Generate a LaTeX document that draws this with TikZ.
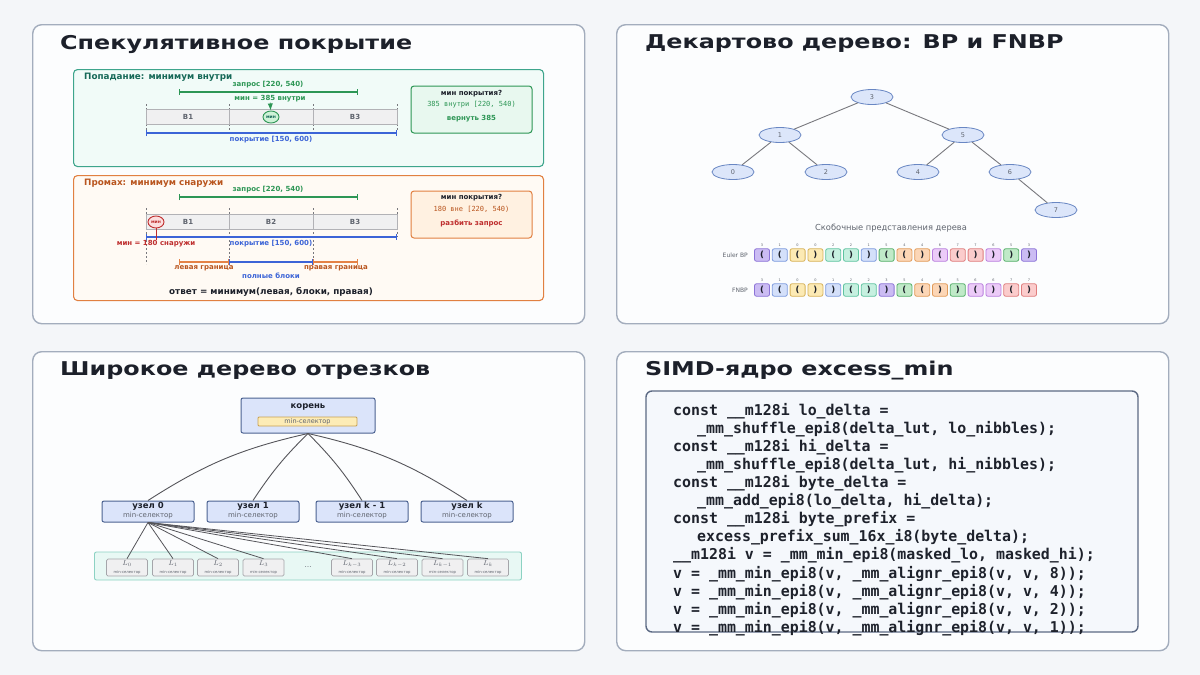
\documentclass[tikz,border=0pt]{standalone}
\usepackage{fontspec}
\setmainfont{DejaVu Sans}
\setmonofont{DejaVu Sans Mono}
\newfontfamily\titlefont[FakeStretch=1.255]{DejaVu Sans Bold}
\usepackage{xcolor}
\usepackage{tikz}
\usetikzlibrary{
  arrows.meta,
  calc,
  positioning,
  shapes.geometric
}
\definecolor{PageBg}{RGB}{244,246,249}
\definecolor{PanelBg}{RGB}{252,253,254}
\definecolor{PanelLine}{RGB}{163,173,189}
\definecolor{TitleInk}{RGB}{28,32,42}
\definecolor{SoftInk}{RGB}{95,100,110}
\definecolor{HitLine}{RGB}{62,165,140}
\definecolor{HitFill}{RGB}{241,251,248}
\definecolor{HitInk}{RGB}{22,105,88}
\definecolor{HitAns}{RGB}{232,248,239}
\definecolor{HitMin}{RGB}{205,242,215}
\definecolor{QryGreen}{RGB}{45,150,85}
\definecolor{CovBlue}{RGB}{60,100,215}
\definecolor{MissLine}{RGB}{225,128,65}
\definecolor{MissFill}{RGB}{255,250,244}
\definecolor{MissInk}{RGB}{185,85,30}
\definecolor{MissAns}{RGB}{255,241,225}
\definecolor{MinRed}{RGB}{190,45,45}
\definecolor{MinFill}{RGB}{252,222,222}
\definecolor{EdgeOrange}{RGB}{228,130,70}
\definecolor{BlkFill}{RGB}{240,240,241}
\definecolor{BlkLine}{RGB}{178,178,182}
\definecolor{GuideInk}{RGB}{120,120,125}
\definecolor{TNodeFill}{RGB}{220,230,250}
\definecolor{TNodeLine}{RGB}{105,135,195}
\definecolor{BrF3}{RGB}{203,188,243}\definecolor{BrL3}{RGB}{140,115,215}
\definecolor{BrF1}{RGB}{212,224,250}\definecolor{BrL1}{RGB}{125,155,222}
\definecolor{BrF0}{RGB}{252,234,180}\definecolor{BrL0}{RGB}{215,178,90}
\definecolor{BrF2}{RGB}{198,240,224}\definecolor{BrL2}{RGB}{95,195,160}
\definecolor{BrF5}{RGB}{192,234,200}\definecolor{BrL5}{RGB}{85,175,105}
\definecolor{BrF4}{RGB}{252,214,182}\definecolor{BrL4}{RGB}{225,155,90}
\definecolor{BrF6}{RGB}{236,203,248}\definecolor{BrL6}{RGB}{185,128,222}
\definecolor{BrF7}{RGB}{251,204,204}\definecolor{BrL7}{RGB}{222,125,125}
\definecolor{WBoxFill}{RGB}{219,228,250}
\definecolor{WBoxLine}{RGB}{75,98,145}
\definecolor{SelFill}{RGB}{253,236,182}
\definecolor{SelLine}{RGB}{200,160,80}
\definecolor{PoolFill}{RGB}{232,248,244}
\definecolor{PoolLine}{RGB}{140,210,195}
\definecolor{LeafLine}{RGB}{165,165,170}
\definecolor{LinkInk}{RGB}{85,85,90}
\definecolor{CodeFill}{RGB}{245,248,252}
\definecolor{CodeLine}{RGB}{92,106,132}
\definecolor{CodeInk}{RGB}{30,34,44}

\begin{document}
\begin{tikzpicture}[
  x=1pt, y=-1pt,
  >=Latex,
  font=\fontsize{7}{8}\selectfont,
  panel/.style={draw=PanelLine, line width=1.4pt, rounded corners=9pt, fill=PanelBg,
    anchor=north west, minimum width=552pt, minimum height=299pt, inner sep=0pt},
  title/.style={anchor=west, inner sep=0pt, text=TitleInk, font=\fontsize{19}{22}\titlefont},
  casebox/.style={line width=1.1pt, rounded corners=4pt, anchor=north west,
    minimum width=470pt, inner sep=0pt},
  tag/.style={anchor=west, inner sep=0pt, font=\fontsize{8.8}{10}\selectfont\bfseries},
  lab/.style={inner sep=0pt, font=\fontsize{7}{8}\selectfont\bfseries},
  monolab/.style={inner sep=0pt, font=\fontsize{7}{8}\selectfont\ttfamily},
  blk/.style={draw=BlkLine, fill=BlkFill, anchor=west, minimum width=83.7pt,
    minimum height=15pt, inner sep=0pt, text=SoftInk, font=\fontsize{7}{8}\selectfont\bfseries},
  guide/.style={draw=GuideInk, dash pattern=on 2pt off 2pt, line width=0.5pt},
  qbar/.style={line width=1.2pt, {Bar[width=6pt]}-{Bar[width=6pt]}},
  minmark/.style={ellipse, line width=0.9pt, minimum width=16pt, minimum height=12pt,
    inner sep=0pt, font=\fontsize{4.5}{5}\selectfont\bfseries},
  ansbox/.style={line width=1pt, rounded corners=3pt, minimum width=121pt,
    minimum height=47pt, inner sep=0pt},
  tnode/.style={ellipse, draw=TNodeLine, fill=TNodeFill, line width=0.8pt,
    minimum width=42pt, minimum height=15pt, inner sep=0pt, text=SoftInk,
    font=\fontsize{6.5}{7}\selectfont},
  tedge/.style={draw=GuideInk, line width=0.9pt},
  brk/.style={rounded corners=2pt, line width=0.8pt, minimum width=15pt,
    minimum height=12.5pt, inner sep=0pt, text=TitleInk, font=\fontsize{8.5}{9}\selectfont\bfseries},
  idx/.style={inner sep=0pt, text=SoftInk, font=\fontsize{3.5}{4}\selectfont},
  wbox/.style={draw=WBoxLine, fill=WBoxFill, line width=1pt, rounded corners=2pt, inner sep=0pt},
  wlab/.style={inner sep=0pt, text=TitleInk, font=\fontsize{8.5}{9}\selectfont\bfseries},
  wsel/.style={inner sep=0pt, text=SoftInk, font=\fontsize{7}{8}\selectfont},
  wlink/.style={draw=LinkInk, line width=0.9pt},
  leaf/.style={draw=LeafLine, fill=BlkFill, line width=0.7pt, rounded corners=1.5pt,
    minimum width=41pt, minimum height=17pt, inner sep=0pt},
  codebox/.style={draw=CodeLine, fill=CodeFill, line width=1.4pt, rounded corners=6pt,
    minimum width=492pt, minimum height=241pt, inner sep=0pt},
]
  \fill[PageBg] (0,0) rectangle (1200,675);
  \useasboundingbox (0,0) rectangle (1200,675);

  % panels
  \node[panel] (tl) at (32,24) {};
  \node[panel] (tr) at (616,24) {};
  \node[panel] (bl) at (32,351) {};
  \node[panel] (br) at (616,351) {};
  \node[title] (tlTitle) at (60,44) {Спекулятивное покрытие};
  \node[title] (trTitle) at (645,44) {Декартово дерево: BP и FNBP};
  \node[title] (blTitle) at (60,371) {Широкое дерево отрезков};
  \node[title] (brTitle) at (645,371) {SIMD-ядро excess\_min};

  % hit case
  \node[casebox, draw=HitLine, fill=HitFill, minimum height=97pt] (hit) at (73,69) {};
  \node[tag, text=HitInk] (hitTag) at (84,77) {Попадание: минимум внутри};
  \coordinate (hitQa) at (179,92);
  \coordinate (hitQb) at (358,92);
  \draw[qbar, QryGreen] (hitQa) -- (hitQb);
  \node[lab, text=QryGreen] (hitQlab) at (268,85) {запрос [220, 540)};
  \foreach \x in {146,229,313,397} \draw[guide] (\x,104) -- (\x,130);
  \foreach \i/\x/\lab in {1/146/B1, 2/229/, 3/313/B3}
    \node[blk] (hitB\i) at (\x,116.5) {\lab};
  \node[lab, text=QryGreen] (hitMinLab) at (270,99) {мин = 385 внутри};
  \node[minmark, draw=QryGreen, fill=HitMin, text=HitInk] (hitMin) at (271,117) {мин};
  \draw[->, QryGreen, line width=0.9pt] (hitMinLab) -- (hitMin);
  \coordinate (hitCa) at (146,133);
  \coordinate (hitCb) at (397,133);
  \draw[qbar, CovBlue] (hitCa) -- (hitCb);
  \node[lab, text=CovBlue] (hitCov) at (271,140) {покрытие [150, 600)};
  \node[ansbox, draw=QryGreen, fill=HitAns] (hitAns) at (471.5,109.5) {};
  \node[lab, text=TitleInk] (hitAnsQ) at (471.5,94) {мин покрытия?};
  \node[monolab, text=QryGreen] (hitAnsV) at (471.5,105) {385 внутри [220, 540)};
  \node[lab, text=QryGreen] (hitAnsR) at (471.5,119) {вернуть 385};

  % miss case
  \node[casebox, draw=MissLine, fill=MissFill, minimum height=125pt] (miss) at (73,175) {};
  \node[tag, text=MissInk] (missTag) at (84,183) {Промах: минимум снаружи};
  \coordinate (missQa) at (179,197);
  \coordinate (missQb) at (358,197);
  \draw[qbar, QryGreen] (missQa) -- (missQb);
  \node[lab, text=QryGreen] (missQlab) at (268,190) {запрос [220, 540)};
  \foreach \x/\y in {146/264, 229/264, 313/264, 397/237} \draw[guide] (\x,208) -- (\x,\y);
  \foreach \i/\x/\lab in {1/146/B1, 2/229/B2, 3/313/B3}
    \node[blk] (missB\i) at (\x,222) {\lab};
  \node[minmark, draw=MinRed, fill=MinFill, text=MinRed] (missMin) at (156,222) {мин};
  \coordinate (missCa) at (146,237);
  \coordinate (missCb) at (397,237);
  \draw[qbar, CovBlue] (missCa) -- (missCb);
  \node[lab, text=CovBlue] (missCov) at (271,244) {покрытие [150, 600)};
  \node[lab, text=MinRed] (missMinLab) at (156,244) {мин = 180 снаружи};
  \draw[MinRed, line width=0.9pt] (missMin) -- (missMinLab);
  \coordinate (edgeL) at (179,262);
  \coordinate (fullL) at (229,262);
  \coordinate (fullR) at (313,262);
  \coordinate (edgeR) at (358,262);
  \draw[qbar, EdgeOrange] (edgeL) -- (fullL);
  \draw[qbar, CovBlue] (fullL) -- (fullR);
  \draw[qbar, EdgeOrange] (fullR) -- (edgeR);
  \node[lab, text=MissInk] (leftLab) at (204,268) {левая граница};
  \node[lab, text=MissInk] (rightLab) at (336,268) {правая граница};
  \node[lab, text=CovBlue] (fullLab) at (271,276) {полные блоки};
  \node[lab, text=TitleInk, font=\fontsize{8.8}{9}\selectfont\bfseries] (answer) at (271,292)
    {ответ = минимум(левая, блоки, правая)};
  \node[ansbox, draw=MissLine, fill=MissAns] (missAns) at (471.5,214.5) {};
  \node[lab, text=TitleInk] (missAnsQ) at (471.5,198) {мин покрытия?};
  \node[monolab, text=MissInk] (missAnsV) at (471.5,209) {180 вне [220, 540)};
  \node[lab, text=MinRed] (missAnsR) at (471.5,223) {разбить запрос};

  % cartesian tree
  \foreach \n/\x/\y in {3/872/97, 1/780/135, 5/963/135, 0/733/172, 2/826/172,
                        4/918/172, 6/1010/172, 7/1056/210}
    \node[tnode] (t\n) at (\x,\y) {\n};
  \foreach \a/\b in {3/1, 3/5, 1/0, 1/2, 5/4, 5/6, 6/7}
    \draw[tedge] (t\a) -- (t\b);
  \node[inner sep=0pt, text=SoftInk, font=\fontsize{8.3}{9}\selectfont] (bpCap) at (891,228)
    {Скобочные представления дерева};

  % bracket rows
  \node[anchor=east, inner sep=0pt, text=SoftInk, font=\fontsize{6}{7}\selectfont] (eulerLab) at (748,255) {Euler BP};
  \node[anchor=east, inner sep=0pt, text=SoftInk, font=\fontsize{6}{7}\selectfont] (fnbpLab) at (748,290) {FNBP};
  \foreach \k/\p [count=\i from 0] in {3/o,1/o,0/o,0/c,2/o,2/c,1/c,5/o,4/o,4/c,6/o,7/o,7/c,6/c,5/c,3/c} {
    \node[brk, fill=BrF\k, draw=BrL\k] (eu\i) at ({762+17.8*\i},255) {\if o\p (\else )\fi};
    \node[idx] (euIdx\i) at ({762+17.8*\i},245) {\k};
  }
  \foreach \k/\p [count=\i from 0] in {3/o,1/o,0/o,0/c,1/c,2/o,2/c,3/c,5/o,4/o,4/c,5/c,6/o,6/c,7/o,7/c} {
    \node[brk, fill=BrF\k, draw=BrL\k] (fn\i) at ({762+17.8*\i},290) {\if o\p (\else )\fi};
    \node[idx] (fnIdx\i) at ({762+17.8*\i},280) {\k};
  }

  % wide segment tree
  \node[wbox, minimum width=134pt, minimum height=35pt] (root) at (308,415.5) {};
  \node[wlab] (rootLab) at (308,407) {корень};
  \node[draw=SelLine, fill=SelFill, line width=0.8pt, rounded corners=1pt, minimum width=99pt,
    minimum height=9pt, inner sep=0pt, text=SoftInk, font=\fontsize{6.5}{7}\selectfont] (rootSel)
    at (307.5,421.5) {min-селектор};
  \foreach \i/\x/\t/\b in {0/148/узел 0/10, 1/253/узел 1/6, 2/362/узел k - 1/-6, 3/467/узел k/-10} {
    \node[wbox, minimum width=92pt, minimum height=21pt] (mid\i) at (\x,511.5) {};
    \node[wlab] (mid\i Lab) at (\x,506) {\t};
    \node[wsel] (mid\i Sel) at (\x,515.5) {min-селектор};
    \draw[wlink] (root.south) to[bend right=\b] (mid\i.north);
  }
  \node[draw=PoolLine, fill=PoolFill, line width=0.9pt, rounded corners=2pt,
    minimum width=427pt, minimum height=28pt, inner sep=0pt] (pool) at (308,566) {};
  \foreach \j/\x/\t in {0/127/L_0, 1/173/L_1, 2/218/L_2, 3/263.5/L_3, 4/352/L_{k-3},
                        5/397/L_{k-2}, 6/442.5/L_{k-1}, 7/488/L_k} {
    \node[leaf] (leaf\j) at (\x,567.5) {};
    \node[inner sep=0pt, text=SoftInk, font=\fontsize{7}{8}\selectfont] (leaf\j Lab) at (\x,564) {$\t$};
    \node[inner sep=0pt, text=SoftInk, font=\fontsize{3.8}{4}\selectfont] (leaf\j Sel) at (\x,572) {min-селектор};
    \draw[wlink, line width=0.8pt] (mid0.south) -- (leaf\j.north);
  }
  \node[inner sep=0pt, text=SoftInk] (dots) at (308,567) {\dots};

  % simd kernel
  \node[codebox] (code) at (892,511.5) {};
  \node[anchor=north west, inner sep=0pt, align=left, text=CodeInk,
    font=\fontsize{14.9}{18.08}\selectfont\ttfamily\bfseries] (codeTxt) at (673,403) {%
    const \_\_m128i lo\_delta =\\
    \hspace*{24pt}\_mm\_shuffle\_epi8(delta\_lut, lo\_nibbles);\\
    const \_\_m128i hi\_delta =\\
    \hspace*{24pt}\_mm\_shuffle\_epi8(delta\_lut, hi\_nibbles);\\
    const \_\_m128i byte\_delta =\\
    \hspace*{24pt}\_mm\_add\_epi8(lo\_delta, hi\_delta);\\
    const \_\_m128i byte\_prefix =\\
    \hspace*{24pt}excess\_prefix\_sum\_16x\_i8(byte\_delta);\\
    \_\_m128i v = \_mm\_min\_epi8(masked\_lo, masked\_hi);\\
    v = \_mm\_min\_epi8(v, \_mm\_alignr\_epi8(v, v, 8));\\
    v = \_mm\_min\_epi8(v, \_mm\_alignr\_epi8(v, v, 4));\\
    v = \_mm\_min\_epi8(v, \_mm\_alignr\_epi8(v, v, 2));\\
    v = \_mm\_min\_epi8(v, \_mm\_alignr\_epi8(v, v, 1));};
\end{tikzpicture}
\end{document}
